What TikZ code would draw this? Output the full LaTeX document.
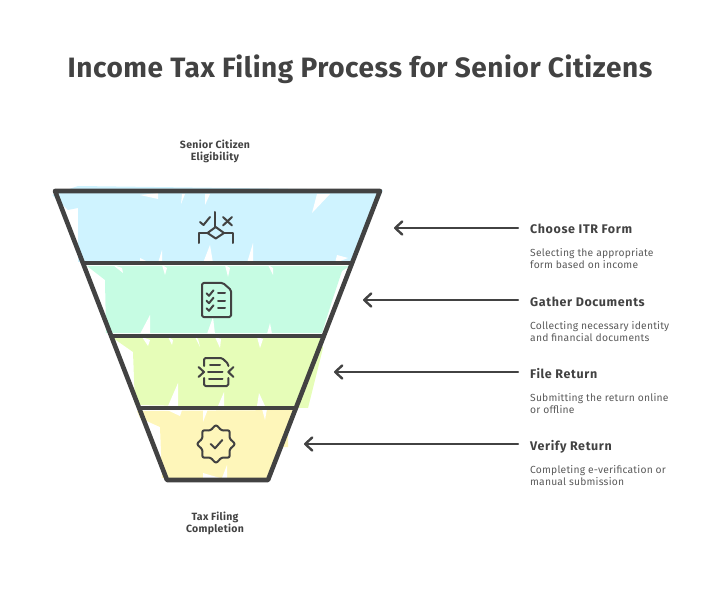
\documentclass[tikz,border=0pt]{standalone}
\usepackage{fontspec}
\setmainfont{Fira Sans}
\usetikzlibrary{arrows.meta}
\definecolor{ink}{HTML}{424242}
\definecolor{soft}{HTML}{5A5A5A}
\definecolor{fblue}{HTML}{CFF3FF}
\definecolor{fgreen}{HTML}{C6FCE3}
\definecolor{flime}{HTML}{E6FDB8}
\definecolor{fyellow}{HTML}{FEF6BA}
\tikzset{
  wedge/.style={fill=white,draw=none},
  funnel/.style={draw=ink,line width=4.6pt,line cap=round,line join=round},
  divider/.style={draw=ink,line width=4pt,line cap=round},
  icon/.style={draw=ink,line width=2pt,line cap=round,line join=round},
  pointer/.style={draw=ink,line width=2.4pt,line cap=round,shorten <=12pt,-{Straight Barb[length=7pt,width=13pt,line cap=round,line join=round]}},
  headline/.style={font=\bfseries\fontsize{28}{32}\selectfont\addfontfeature{LetterSpace=2},text=ink,inner sep=0pt},
  endlabel/.style={font=\bfseries\fontsize{10.5}{12}\selectfont\addfontfeature{LetterSpace=3},text=ink,align=center,inner sep=0pt},
  steptitle/.style={font=\bfseries\fontsize{12.5}{14}\selectfont\addfontfeature{LetterSpace=5},text=ink,inner sep=0pt,anchor=base west,text height=12pt,text depth=0pt},
  stepdesc/.style={font=\fontsize{10.3}{12}\selectfont\addfontfeature{LetterSpace=2},text=soft,align=left,inner sep=0pt,anchor=base west}
}
\begin{document}
\begin{tikzpicture}[x=1pt,y=-1pt]
\useasboundingbox (0,0) rectangle (720,612);
% fills
\fill[fblue] (52,195) -- (78,186) -- (383,190) -- (380,197) -- (352,262) -- (78,262) -- (78,208) -- (68,210) -- cycle;
\fill[fgreen] (87,266) -- (350,266) -- (342,271) -- (333,298) -- (322,333) -- (106,333) -- (105,280) -- cycle;
\fill[flime] (113,338) -- (320,338) -- (323,348) -- (308,408) -- (135,405) -- (133,352) -- cycle;
\fill[fyellow] (137,411) -- (295,410) -- (288,433) -- (288,447) -- (281,447) -- (268,480) -- (162,478) -- (160,427) -- (140,418) -- cycle;
% white gaps of the hatching
\fill[wedge] (140,195) -- (158,193) -- (158,199) -- cycle;
\fill[wedge] (182,194) -- (185,194) -- (181,204) -- cycle;
\fill[wedge] (205,194) -- (210,194) -- (205,205) -- cycle;
\fill[wedge] (317,194) -- (330,194) -- (312,213) -- cycle;
\fill[wedge] (162,250) -- (162,263) -- (158,263) -- cycle;
\fill[wedge] (210,245) -- (213,263) -- (203,263) -- cycle;
\fill[wedge] (253,243) -- (253,263) -- (247,263) -- cycle;
\fill[wedge] (337,255) -- (348,258) -- (335,263) -- cycle;
\fill[wedge] (140,258) -- (150,263) -- (140,263) -- cycle;
\fill[wedge] (122,268) -- (123,273) -- (113,265) -- cycle;
\fill[wedge] (167,268) -- (165,275) -- (162,265) -- cycle;
\fill[wedge] (230,268) -- (228,277) -- (225,265) -- cycle;
\fill[wedge] (273,268) -- (273,275) -- (268,265) -- cycle;
\fill[wedge] (150,315) -- (150,334) -- (140,334) -- cycle;
\fill[wedge] (213,317) -- (215,334) -- (207,334) -- cycle;
\fill[wedge] (270,323) -- (272,334) -- (267,334) -- cycle;
\fill[wedge] (150,340) -- (148,346) -- (142,337) -- cycle;
\fill[wedge] (173,340) -- (172,345) -- (168,337) -- cycle;
\fill[wedge] (198,339) -- (200,347) -- (195,337) -- cycle;
\fill[wedge] (221,339) -- (220,348) -- (215,337) -- cycle;
\fill[wedge] (263,339) -- (260,348) -- (257,337) -- cycle;
\fill[wedge] (178,383) -- (178,406) -- (168,406) -- cycle;
\fill[wedge] (224,392) -- (224,406) -- (218,406) -- cycle;
\fill[wedge] (259,393) -- (265,406) -- (257,406) -- cycle;
\fill[wedge] (182,410) -- (180,416) -- (165,409) -- cycle;
\fill[wedge] (208,409) -- (203,422) -- (203,409) -- cycle;
\fill[wedge] (267,409) -- (265,420) -- (262,409) -- cycle;
\fill[wedge] (227,465) -- (227,478) -- (222,478) -- cycle;
\fill[wedge] (203,473) -- (220,478) -- (203,478) -- cycle;
% funnel outline
\draw[funnel] (55,191) -- (380,191) -- (268,480) -- (167,480) -- cycle;
\draw[divider] (83,263.5) -- (352,263.5);
\draw[divider] (111,335.5) -- (324,335.5);
\draw[divider] (139,407.5) -- (296,407.5);
% icon 1: decision
\draw[icon] (215,212) -- (215,227);
\draw[icon] (215.7,227) -- (224,233) -- (215.7,238.5) -- (207.5,233) -- cycle;
\draw[icon] (198.5,243) -- (198.5,233) -- (207.5,233);
\draw[icon] (233,243) -- (233,233) -- (224,233);
\draw[icon] (200,222) -- (203.5,225) -- (210,217);
\draw[icon] (223,217) -- (232,225.5) (232,217) -- (223,225.5);
% icon 2: checklist
\draw[icon,rounded corners=1.5pt] (223,283) -- (202,283) -- (202,317) -- (231,317) -- (231,290) -- cycle;
\foreach \yy in {293.3,300.7,308.3}{
  \draw[icon] (206.5,\yy) -- (209,{\yy+2.5}) -- (213.5,{\yy-3});
  \draw[icon] (218,\yy) -- (225,\yy);
}
% icon 3: document with chevrons
\draw[icon,rounded corners=1.5pt] (204,366) -- (204,358) -- (222,358) -- (228.3,364) -- (228.3,366);
\draw[icon,rounded corners=1.5pt] (204,378) -- (204,386) -- (228.3,386) -- (228.3,378);
\draw[icon] (198.5,367) -- (204,372) -- (198.5,377);
\draw[icon] (233.5,367) -- (228.3,372) -- (233.5,377);
\draw[icon] (210,365) -- (220,365);
\draw[icon] (208,371.7) -- (222.5,371.7);
\draw[icon] (209,379) -- (222.5,379);
% icon 4: badge
\draw[icon,rounded corners=2.2pt,shift={(216,444)}]
  (90:19.5) -- (67.5:14.5) -- (45:19.5) -- (22.5:14.5) -- (0:19.5) -- (-22.5:14.5) -- (-45:19.5) -- (-67.5:14.5) -- (-90:19.5)
  -- (-112.5:14.5) -- (-135:19.5) -- (-157.5:14.5) -- (180:19.5) -- (157.5:14.5) -- (135:19.5) -- (112.5:14.5) -- cycle;
\draw[icon] (210.7,444) -- (215,448.3) -- (222.3,440);
% texts
\node[headline] (title) at (360,69) {Income Tax Filing Process for Senior Citizens};
\node[endlabel] (top) at (215,151.5) {Senior Citizen\\Eligibility};
\node[endlabel] (bottom) at (215,523.5) {Tax Filing\\Completion};
\coordinate (tipa) at (394,228);
\coordinate (tipb) at (363,300);
\coordinate (tipc) at (334,372);
\coordinate (tipd) at (304,444);
\node[steptitle] (laba) at (530,234) {Choose ITR Form};
\node[stepdesc] (desa) at (530,269) {Selecting the appropriate\\form based on income};
\node[steptitle] (labb) at (530,306) {Gather Documents};
\node[stepdesc] (desb) at (530,341) {Collecting necessary identity\\and financial documents};
\node[steptitle] (labc) at (530,378) {File Return};
\node[stepdesc] (desc) at (530,413) {Submitting the return online\\or offline};
\node[steptitle] (labd) at (530,450) {Verify Return};
\node[stepdesc] (desd) at (530,485) {Completing e-verification or\\manual submission};
\draw[pointer] (laba.west) -- (laba.west -| tipa);
\draw[pointer] (labb.west) -- (labb.west -| tipb);
\draw[pointer] (labc.west) -- (labc.west -| tipc);
\draw[pointer] (labd.west) -- (labd.west -| tipd);
\end{tikzpicture}
\end{document}
